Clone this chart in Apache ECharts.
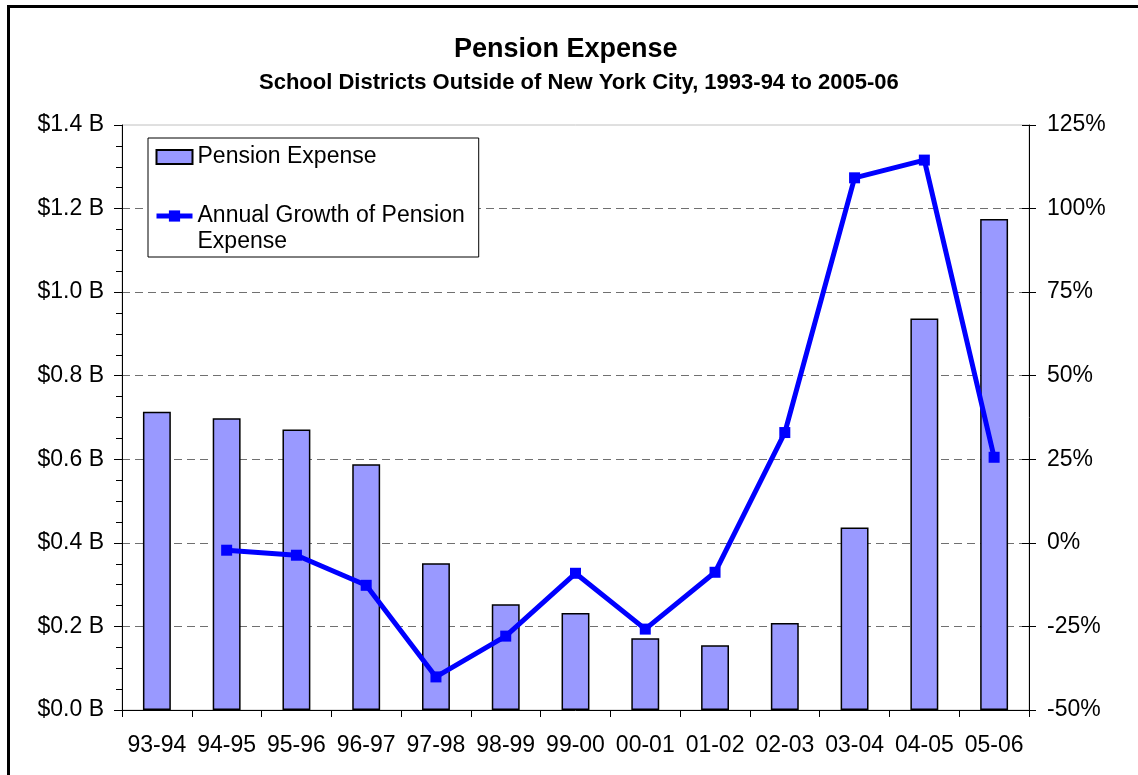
<!DOCTYPE html>
<html>
<head>
<meta charset="utf-8">
<script src="https://cdn.jsdelivr.net/npm/echarts@6/dist/echarts.min.js"></script>
<style>
  html, body { margin: 0; padding: 0; background: #fff; overflow: hidden; }
  #frame { position: absolute; left: 7px; top: 5px; width: 1200px; height: 900px;
           border-top: 3px solid #000; border-left: 3px solid #000; }
  #main { position: absolute; left: 0; top: 0; width: 1138px; height: 775px; }
</style>
</head>
<body>
<div id="frame"></div>
<div id="main"></div>
<script>
// fiscal years
const years = ['93-94', '94-95', '95-96', '96-97', '97-98', '98-99', '99-00',
  '00-01', '01-02', '02-03', '03-04', '04-05', '05-06'];
// pension expense, billions of dollars
const expense = [0.714, 0.698, 0.671, 0.588, 0.351, 0.253, 0.232,
  0.172, 0.155, 0.208, 0.437, 0.937, 1.175];
// annual growth, percent (none for the first year)
const growth = [null, -2.2, -3.7, -12.7, -40.1, -27.9, -9.1,
  -25.8, -8.8, 33.0, 109.2, 114.5, 25.6];

const font = 'Arial, "Liberation Sans", sans-serif';
const gridColors = ['#707070', '#707070', '#707070', '#707070', '#707070',
  '#707070', '#707070', 'rgba(0,0,0,0)'];

const chart = echarts.init(document.getElementById('main'), null, {renderer: 'canvas'});

const option = {
  animation: false,
  textStyle: {fontFamily: font, color: '#000'},
  title: [
    {
      text: 'Pension Expense',
      left: 449,
      top: 31,
      textStyle: {fontSize: 27, fontWeight: 'bold', color: '#000', fontFamily: font}
    },
    {
      text: 'School Districts Outside of New York City, 1993-94 to 2005-06',
      left: 254,
      top: 67,
      textStyle: {fontSize: 22, fontWeight: 'bold', color: '#000', fontFamily: font}
    }
  ],
  legend: {
    orient: 'vertical',
    left: 148,
    top: 138,
    padding: [6, 14, 2, 6],
    itemGap: 7,
    itemWidth: 36,
    itemHeight: 14,
    borderColor: '#000',
    borderWidth: 1,
    backgroundColor: '#fff',
    textStyle: {fontSize: 23, color: '#000', fontFamily: font, lineHeight: 26},
    formatter: function (name) {
      // blank first line keeps the symbol level with the first line of text
      return name === 'Annual Growth of Pension Expense'
        ? '\nAnnual Growth of Pension\nExpense' : name;
    },
    data: [
      {name: 'Pension Expense', icon: 'rect'},
      {name: 'Annual Growth of Pension Expense', lineStyle: {width: 5}}
    ]
  },
  grid: {
    left: 122,
    right: 109,
    top: 125,
    bottom: 65,
    show: true,
    borderColor: '#c0c0c0',
    borderWidth: 1,
    backgroundColor: 'transparent'
  },
  xAxis: {
    type: 'category',
    data: years,
    boundaryGap: true,
    axisLine: {lineStyle: {color: '#000', width: 1}},
    axisTick: {show: true, length: 7, lineStyle: {color: '#000'}},
    axisLabel: {fontSize: 23, color: '#000', margin: 24, interval: 0, fontFamily: font}
  },
  yAxis: [
    {
      type: 'value',
      min: 0,
      max: 1.4,
      interval: 0.2,
      position: 'left',
      axisLine: {show: true, lineStyle: {color: '#000'}},
      axisTick: {show: true, length: 8, lineStyle: {color: '#000'}},
      minorTick: {show: true, splitNumber: 4, length: 6, lineStyle: {color: '#000'}},
      splitLine: {show: true, lineStyle: {color: gridColors, type: [8, 5], width: 1}},
      axisLabel: {
        fontSize: 23, color: '#000', margin: 18, fontFamily: font,
        formatter: function (v) { return '$' + v.toFixed(1) + ' B'; }
      }
    },
    {
      type: 'value',
      min: -50,
      max: 125,
      interval: 25,
      position: 'right',
      axisLine: {show: true, lineStyle: {color: '#000'}},
      axisTick: {show: true, length: 7, lineStyle: {color: '#000'}},
      splitLine: {show: false},
      axisLabel: {
        fontSize: 23, color: '#000', margin: 18, fontFamily: font,
        formatter: function (v) { return v + '%'; }
      }
    },
    {
      // inner half of the crossing ticks on the right axis
      type: 'value',
      min: -50,
      max: 125,
      interval: 25,
      position: 'right',
      axisLine: {show: false},
      axisTick: {show: true, inside: true, length: 7, lineStyle: {color: '#000'}},
      splitLine: {show: false},
      axisLabel: {show: false}
    }
  ],
  series: [
    {
      name: 'Pension Expense',
      type: 'bar',
      yAxisIndex: 0,
      data: expense,
      barWidth: '40%',
      itemStyle: {color: '#9999ff', borderColor: '#000', borderWidth: 1.5}
    },
    {
      name: 'Annual Growth of Pension Expense',
      type: 'line',
      yAxisIndex: 1,
      data: growth,
      symbol: 'rect',
      symbolSize: 11,
      lineStyle: {color: '#0000ff', width: 5},
      itemStyle: {color: '#0000ff'},
      z: 5
    }
  ]
};

chart.setOption(option);
window.addEventListener('resize', function () {
  chart.resize();
});
</script>
</body>
</html>
